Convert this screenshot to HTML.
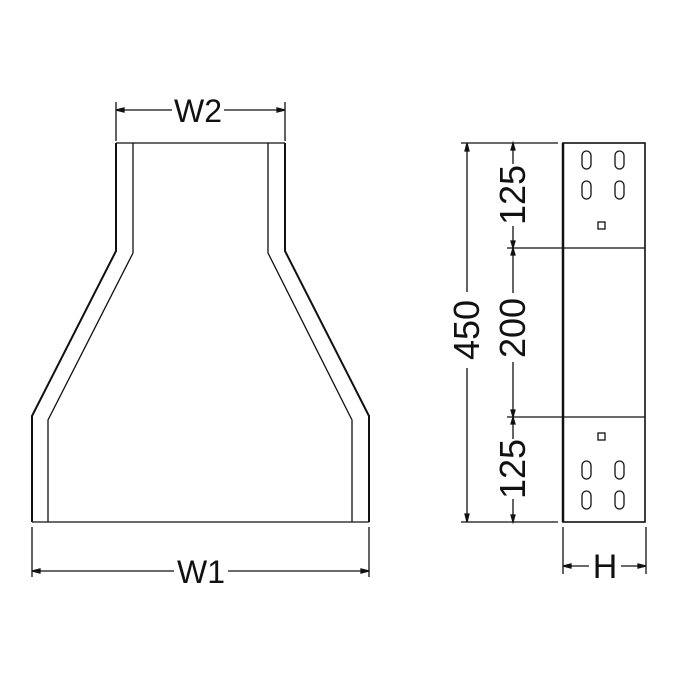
<!DOCTYPE html>
<html><head><style>body{margin:0;background:#fff}svg{display:block}</style></head><body>
<svg width="680" height="680" viewBox="0 0 680 680" xmlns="http://www.w3.org/2000/svg" font-family="Liberation Sans, sans-serif">
<g fill="none" stroke="#111" stroke-width="1.3">
<path d="M116 143 H285"/>
<path d="M116 143 V251 L32 416 V522" stroke-width="2"/>
<path d="M133 143 V253 L48 420 V522"/>
<path d="M285 143 V251 L369 416 V522" stroke-width="2"/>
<path d="M268 143 V253 L352 420 V522"/>
<path d="M32 522 H369"/>
<path d="M116 102 V141 M285 102 V141"/>
<path d="M116 110 H172 M224 110 H285"/>
<path d="M116 110 l8 -2 v4 z M285 110 l-8 -2 v4 z" fill="#111"/>
<path d="M32 527 V577 M369 527 V577"/>
<path d="M32 571 H174 M228 571 H369"/>
<path d="M32 571 l8 -2 v4 z M369 571 l-8 -2 v4 z" fill="#111"/>
<rect x="563" y="143" width="82" height="379" stroke-width="1.6"/>
<path d="M563 143 V522" stroke-width="2.5"/>
<path d="M507 248 H645 M507 417 H645"/>
<path d="M461 143 H558 M461 522 H558"/>
<path d="M467 143 V292 M467 368 V522"/>
<path d="M467 143 l-2 8 h4 z M467 522 l-2 -8 h4 z" fill="#111"/>
<path d="M513 143 V164 M513 226 V248 M513 248 V293 M513 362 V417 M513 417 V439 M513 499 V522"/>
<path d="M513 143 l-2 7 h4 z M513 248 l-2 -7 h4 z M513 248 l-2 7 h4 z M513 417 l-2 -7 h4 z M513 417 l-2 7 h4 z M513 522 l-2 -7 h4 z" fill="#111"/>
<rect x="582" y="151" width="9" height="18" rx="4.5"/><rect x="615" y="151" width="9" height="18" rx="4.5"/>
<rect x="582" y="181" width="9" height="18" rx="4.5"/><rect x="615" y="181" width="9" height="18" rx="4.5"/>
<rect x="598" y="222" width="7" height="7"/>
<rect x="598" y="433" width="7" height="7"/>
<rect x="582" y="461" width="9" height="18" rx="4.5"/><rect x="615" y="461" width="9" height="18" rx="4.5"/>
<rect x="582" y="491" width="9" height="18" rx="4.5"/><rect x="615" y="491" width="9" height="18" rx="4.5"/>
<path d="M563 527 V574 M646 527 V574"/>
<path d="M563 566 H589 M621 566 H646"/>
<path d="M563 566 l8 -2 v4 z M646 566 l-8 -2 v4 z" fill="#111"/>
</g>
<g fill="#111" font-size="32" text-anchor="middle">
<text x="198" y="122">W2</text>
<text x="201" y="583">W1</text>
<text x="605" y="578" font-size="34">H</text>
<g font-size="36">
<text transform="translate(479 330) rotate(-90)">450</text>
<text transform="translate(525 328) rotate(-90)">200</text>
<text transform="translate(525 195) rotate(-90)">125</text>
<text transform="translate(525 469) rotate(-90)">125</text>
</g>
</g>
</svg>
</body></html>
